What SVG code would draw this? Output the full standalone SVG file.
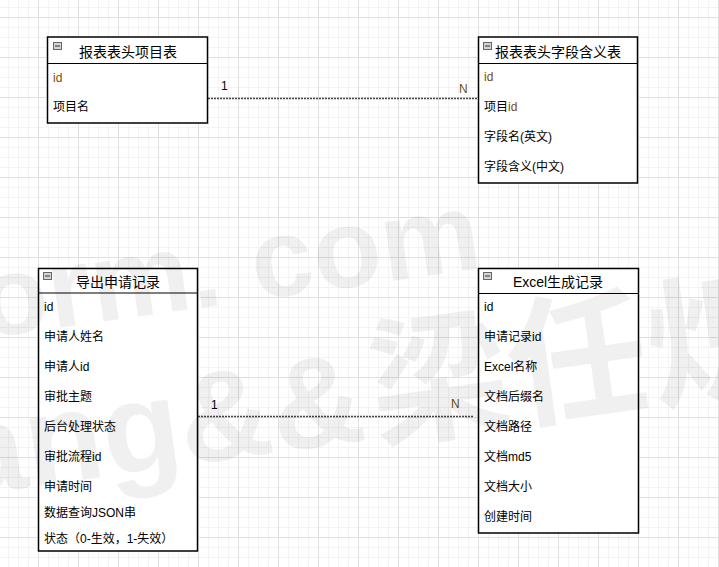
<svg xmlns="http://www.w3.org/2000/svg" width="719" height="567" viewBox="0 0 719 567">
<style>
.box{fill:#fff;stroke:#000;stroke-width:1.5}
.sep{stroke:#000;stroke-width:1.2}
.ttl{font-family:"Liberation Sans","Noto Sans CJK SC",sans-serif;font-size:14px;fill:#000;text-anchor:middle}
.row{font-family:"Liberation Sans","Noto Sans CJK SC",sans-serif;font-size:12px;fill:#000}
.brn{fill:#7a4a10}
.lbl{font-family:"Liberation Sans","Noto Sans CJK SC",sans-serif;font-size:12px;fill:#000}
.icon{fill:#d4d4d4;stroke:#666;stroke-width:1}
.conn{stroke:#444;stroke-width:1.5;stroke-dasharray:2 1;fill:none}
.wm{font-family:"Liberation Sans","Noto Sans CJK SC",sans-serif;font-weight:bold;fill:#000;fill-opacity:0.06}
</style>
<defs>
<pattern id="grid" x="38" y="17" width="40" height="40" patternUnits="userSpaceOnUse">
<path d="M10.5 0V40M20.5 0V40M30.5 0V40M0 10.5H40M0 20.5H40M0 30.5H40" stroke="#f3f3f3" stroke-width="1"/>
<path d="M0.5 0V40M0 0.5H40" stroke="#e0e0e0" stroke-width="1"/>
</pattern>
<g id="minus"><rect class="icon" x="0.5" y="0.5" width="8" height="7"/><line x1="2" y1="4" x2="7" y2="4" stroke="#333" stroke-width="1"/></g>
</defs>
<rect width="719" height="567" fill="#fff"/>
<rect width="719" height="567" fill="url(#grid)"/>

<g id="connectors">
<line class="conn" x1="208" y1="98.5" x2="479" y2="98.5"/>
<text class="lbl" x="221" y="90">1</text>
<text class="lbl" x="459" y="93" style="fill:#6e5200">N</text>
<line class="conn" x1="198" y1="416.5" x2="474" y2="416.5"/>
<text class="lbl" x="211" y="409">1</text>
<text class="lbl" x="451" y="408" style="fill:#6e5200">N</text>
</g>

<g id="table1">
<rect class="box" x="47.5" y="37" width="160" height="86"/>
<line class="sep" x1="47.5" y1="63.5" x2="207.5" y2="63.5"/>
<use href="#minus" x="53" y="42"/>
<text class="ttl" x="128" y="56.5">报表表头项目表</text>
<text class="row brn" x="53" y="82">id</text>
<text class="row" x="53" y="111">项目名</text>
</g>

<g id="table2">
<rect class="box" x="478.5" y="37" width="159" height="146"/>
<line class="sep" x1="478.5" y1="63.5" x2="637.5" y2="63.5"/>
<use href="#minus" x="483" y="42"/>
<text class="ttl" x="558" y="56.5">报表表头字段含义表</text>
<text class="row brn" x="484" y="81">id</text>
<text class="row" x="484" y="111">项目<tspan class="brn">id</tspan></text>
<text class="row" x="484" y="141">字段名(英文)</text>
<text class="row" x="484" y="170.5">字段含义(中文)</text>
</g>

<g id="table3">
<rect class="box" x="38.5" y="268.5" width="159" height="282.5"/>
<line class="sep" x1="38.5" y1="293" x2="197.5" y2="293"/>
<use href="#minus" x="43" y="272"/>
<text class="ttl" x="118" y="286.5">导出申请记录</text>
<text class="row" x="44" y="311">id</text>
<text class="row" x="44" y="341">申请人姓名</text>
<text class="row" x="44" y="371">申请人id</text>
<text class="row" x="44" y="401">审批主题</text>
<text class="row" x="44" y="431">后台处理状态</text>
<text class="row" x="44" y="461">审批流程id</text>
<text class="row" x="44" y="491">申请时间</text>
<text class="row" x="44" y="517">数据查询JSON串</text>
<text class="row" x="44" y="543">状态（0-生效，1-失效）</text>
</g>

<g id="table4">
<rect class="box" x="478.5" y="268.5" width="160" height="264.5"/>
<line class="sep" x1="478.5" y1="293.5" x2="638.5" y2="293.5"/>
<use href="#minus" x="483" y="272"/>
<text class="ttl" x="558" y="286.5">Excel生成记录</text>
<text class="row" x="484" y="311">id</text>
<text class="row" x="484" y="341">申请记录id</text>
<text class="row" x="484" y="371">Excel名称</text>
<text class="row" x="484" y="401">文档后缀名</text>
<text class="row" x="484" y="431">文档路径</text>
<text class="row" x="484" y="461">文档md5</text>
<text class="row" x="484" y="491">文档大小</text>
<text class="row" x="484" y="521">创建时间</text>
</g>

<g id="watermark">
<text class="wm" font-size="112" text-anchor="end" transform="translate(484,268) rotate(-8)">orm. com</text>
<text class="wm" font-size="128" transform="translate(-40,497) rotate(-8)">ang&amp;&amp;<tspan font-size="140" dx="8">梁任炽</tspan></text>
</g>
</svg>
